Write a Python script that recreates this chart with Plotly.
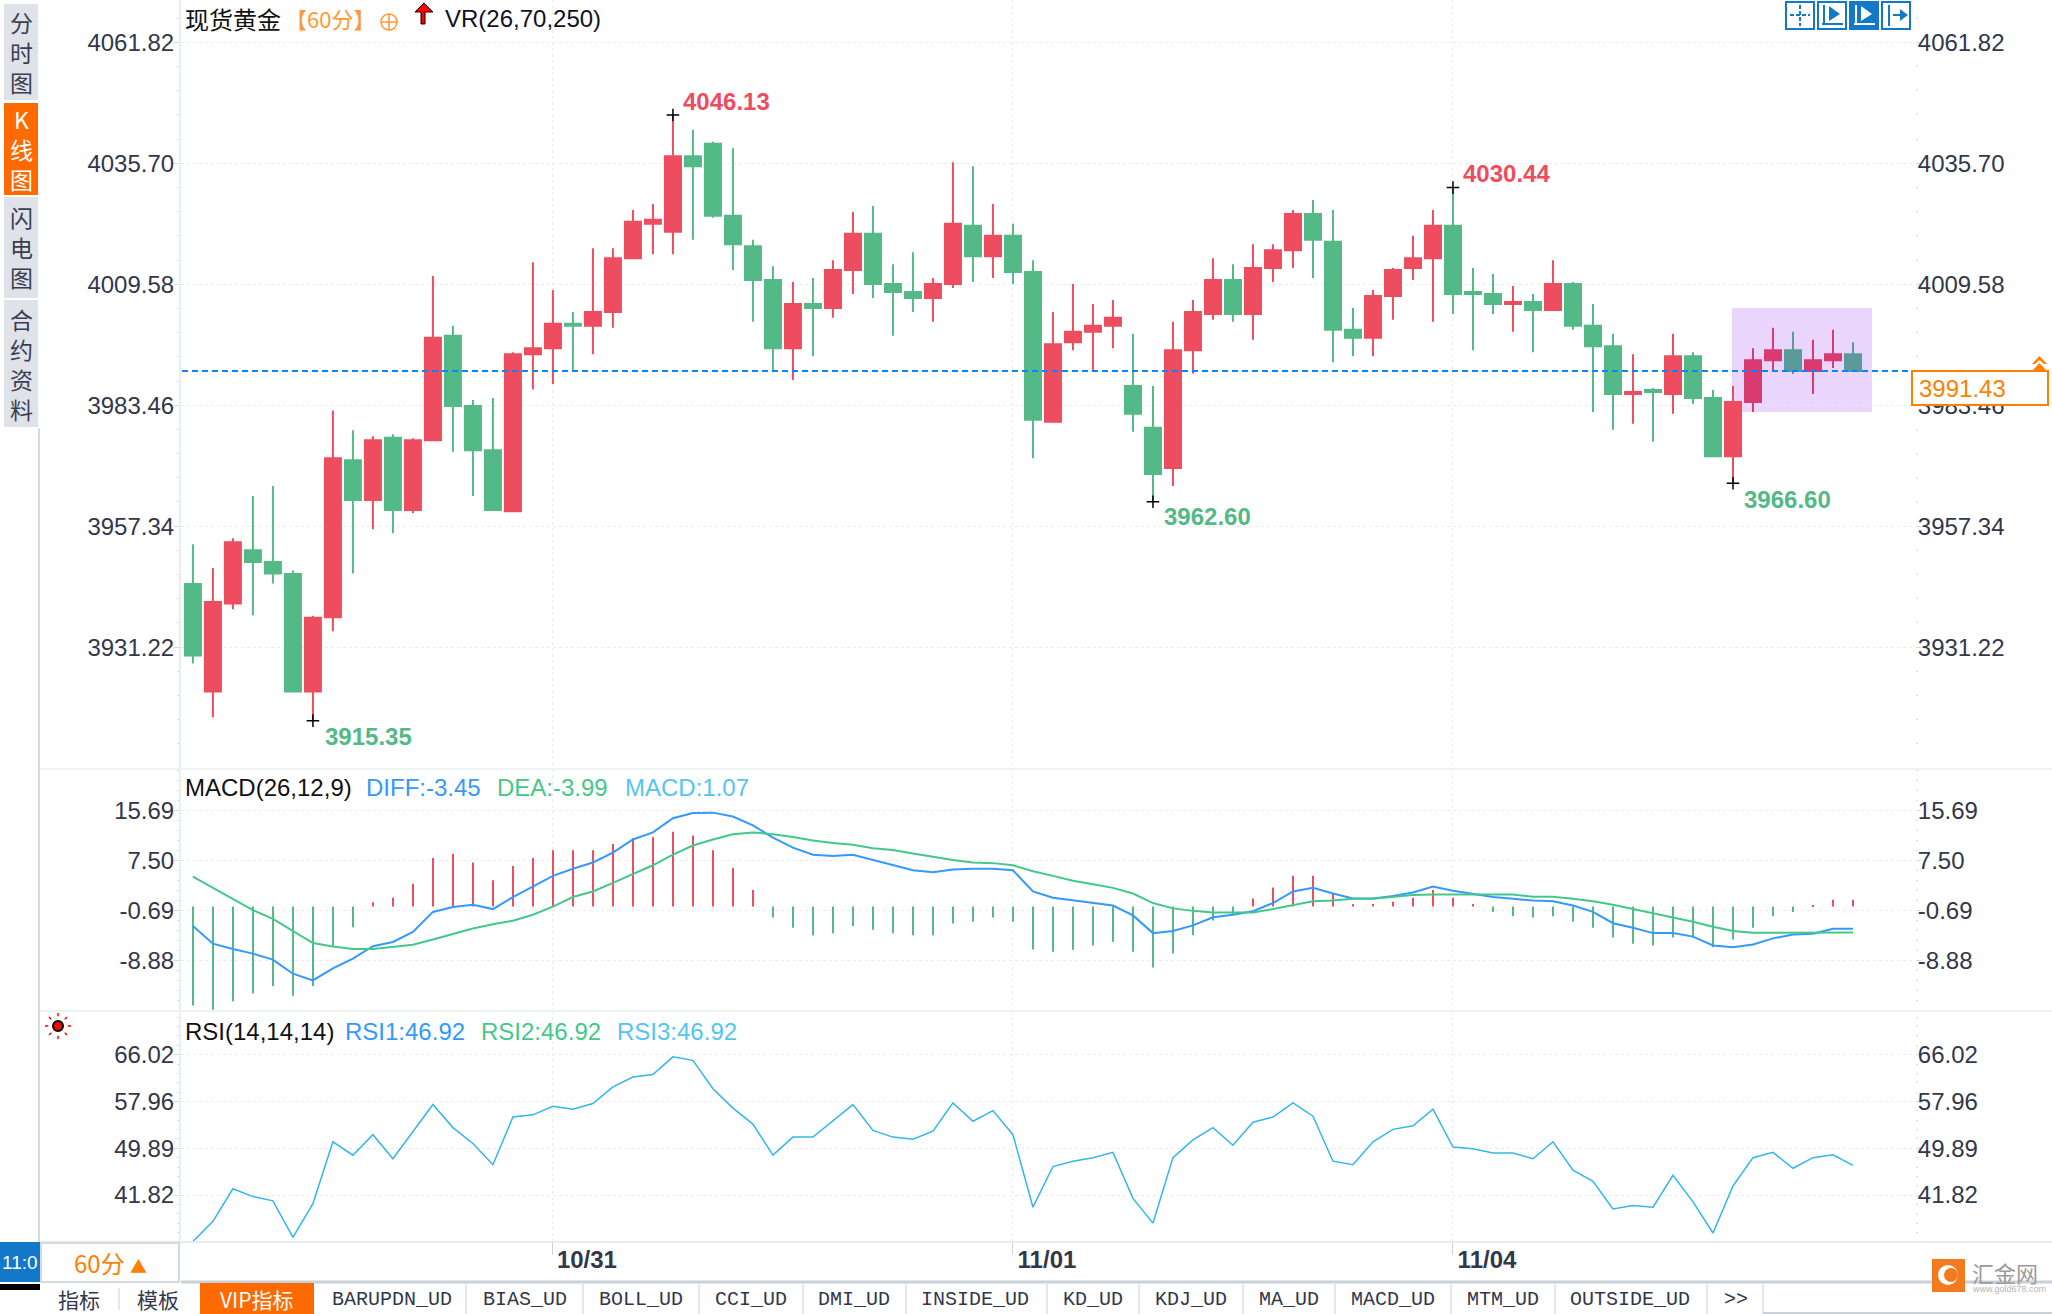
import plotly.graph_objects as go
from plotly.subplots import make_subplots

W, H = 2052, 1314

open_px = [3944.86,3921.66,3940.67,3952.16,3949.59,3947.01,3921.66,3937.67,3971.60,3963.01,
           3976.44,3960.86,3975.90,3998.45,3983.31,3973.75,3960.54,3994.48,3995.77,4001.03,
           4000.60,4003.61,4015.21,4022.62,4020.90,4037.23,4039.91,4024.34,4017.79,4010.48,
           3995.77,4005.33,4004.47,4012.63,4020.47,4009.62,4007.91,4006.62,4009.62,4022.19,
           4015.64,4020.04,4012.20,3979.87,3997.06,3999.31,4000.60,3987.61,3978.58,3969.89,
           3995.34,4003.18,4010.48,4003.18,4013.06,4016.93,4024.77,4018.75,3999.74,3998.02,
           4007.05,4013.06,4015.21,4022.19,4007.91,4007.48,4005.33,4005.76,4004.04,4009.62,
           4000.60,3996.20,3985.89,3986.75,3985.89,3994.05,3985.03,3972.46,3984.17,3993.19,
           3995.34,3990.83,3993.19,3994.48]
close_px = [3929.40,3940.99,3953.88,3949.59,3947.12,3921.66,3937.56,3972.03,3963.01,3975.90,
            3960.86,3975.90,3998.02,3983.31,3973.75,3960.86,3994.48,3995.77,4001.03,4000.60,
            4003.61,4015.21,4023.05,4023.48,4037.23,4035.08,4024.34,4018.22,4010.48,3995.77,
            4005.33,4004.47,4012.63,4020.47,4009.62,4007.91,4006.62,4009.62,4022.62,4015.64,
            4020.04,4012.20,3980.30,3996.63,3999.31,4000.60,4002.32,3981.59,3968.60,3995.34,
            4003.61,4010.48,4003.18,4013.06,4016.93,4024.77,4019.18,3999.74,3998.02,4007.05,
            4012.63,4015.21,4022.19,4007.48,4007.48,4005.33,4005.76,4004.04,4009.62,4000.60,
            3996.20,3985.89,3986.32,3986.32,3994.05,3985.03,3972.46,3984.17,3993.19,3995.34,
            3990.83,3993.19,3994.48,3990.83]
high_px = [3953.45,3948.30,3954.74,3963.87,3966.02,3947.76,3937.99,3982.34,3978.05,3976.76,
           3977.19,3976.33,4011.34,4000.60,3984.60,3985.03,3994.91,4014.35,4008.33,4003.61,
           4017.36,4017.36,4025.63,4026.91,4046.13,4042.92,4040.34,4038.94,4019.18,4013.49,
           4010.05,4010.91,4014.78,4025.20,4026.49,4013.92,4016.50,4010.91,4035.94,4035.08,
           4026.91,4022.62,4014.78,4003.61,4009.62,4005.33,4006.19,3998.88,3987.61,4001.46,
           4006.19,4015.21,4013.92,4018.22,4018.22,4025.63,4027.77,4025.63,4004.47,4008.33,
           4013.06,4020.04,4025.63,4030.44,4013.06,4011.77,4009.19,4007.48,4014.78,4010.05,
           4005.33,3998.88,3994.48,3987.18,3998.88,3994.91,3986.75,3987.61,3995.77,4000.17,
           3999.31,3997.59,3999.74,3997.06]
low_px = [3927.68,3916.08,3939.38,3938.10,3944.97,3921.66,3915.35,3934.66,3947.12,3956.68,
          3955.82,3960.11,3975.90,3973.43,3963.87,3960.86,3960.54,3986.85,3988.04,3990.94,
          3994.48,4000.17,4015.21,4016.07,4016.07,4019.18,4023.91,4012.63,4001.46,3990.94,
          3988.90,3994.05,4002.32,4007.48,4006.62,3998.45,4003.61,4001.46,4008.76,4010.05,
          4010.91,4009.62,3972.03,3979.87,3995.34,3990.94,3995.77,3977.73,3962.60,3966.02,
          3990.29,4001.89,4001.46,3997.59,4010.05,4013.06,4010.91,3992.76,3994.05,3994.05,
          4001.89,4010.48,4001.46,4003.18,3995.34,4003.18,3999.31,3994.91,4004.04,3999.74,
          3982.02,3978.16,3979.44,3975.58,3981.59,3983.74,3972.46,3966.60,3982.02,3990.61,
          3990.18,3985.89,3991.47,3990.83]

macd_hist = [-16.2,-16.9,-15.5,-14.2,-13.0,-14.6,-13.0,-6.5,-3.4,0.7,
             1.4,3.7,7.9,8.6,7.2,4.3,6.6,7.9,9.2,9.2,
             9.2,10.2,11.2,11.3,12.2,11.6,9.2,6.3,2.7,-1.8,
             -3.5,-4.7,-4.4,-3.2,-3.8,-4.4,-4.7,-4.7,-2.8,-2.5,
             -1.8,-2.5,-7.05,-7.4,-7.1,-6.4,-5.8,-7.4,-10.0,-7.7,
             -4.7,-2.3,-1.4,1.3,3.1,5.0,5.0,2.2,0.4,0.4,
             0.75,1.4,2.7,1.4,0.4,-0.9,-1.6,-1.8,-1.6,-2.5,
             -3.5,-5.1,-6.1,-6.4,-5.1,-5.1,-6.7,-5.4,-3.5,-1.6,
             -0.9,0.2,1.1,1.07]
diff = [-3.21,-6.10,-6.97,-7.72,-8.70,-11.01,-12.11,-10.15,-8.53,-6.51,
        -5.81,-4.19,-0.90,-0.09,0.26,-0.44,1.53,3.26,5.00,6.15,
        7.19,8.81,10.95,12.11,14.42,15.29,15.34,14.71,13.26,11.24,
        9.62,8.46,8.23,8.46,7.60,6.73,5.92,5.57,6.04,6.15,
        6.15,5.92,2.45,1.41,1.01,0.55,0.14,-1.48,-4.37,-4.02,
        -3.10,-1.77,-1.36,-0.78,0.55,2.45,3.03,2.11,1.30,1.30,
        1.70,2.28,3.26,2.57,2.11,1.53,1.24,0.95,0.84,0.14,
        -0.90,-2.75,-3.50,-4.37,-4.37,-4.94,-6.39,-6.68,-6.22,-5.23,
        -4.60,-4.48,-3.67,-3.67]
dea = [4.88,3.03,1.30,-0.61,-2.05,-4.08,-5.99,-6.56,-6.97,-6.97,
       -6.56,-6.27,-5.41,-4.48,-3.62,-2.92,-2.34,-1.36,-0.03,1.53,
       2.45,3.84,5.34,6.73,8.46,9.97,10.95,11.82,12.11,11.82,
       11.35,10.78,10.37,10.08,9.51,9.22,8.64,8.06,7.60,7.19,
       7.08,6.73,5.75,5.00,4.19,3.61,3.03,2.11,0.55,-0.32,
       -0.73,-1.01,-1.07,-1.01,-0.44,0.14,0.84,0.95,1.24,1.24,
       1.53,1.88,1.93,1.93,1.93,1.93,1.93,1.59,1.59,1.24,
       0.84,0.26,-0.44,-1.07,-1.77,-2.52,-3.33,-4.02,-4.31,-4.31,
       -4.31,-4.31,-4.31,-4.25]
rsi = [33.81,37.29,42.90,41.56,40.83,34.54,40.34,51.01,48.70,52.23,
       48.09,52.84,57.42,53.45,50.71,47.05,55.28,55.65,57.11,56.63,
       57.60,60.47,62.18,62.60,65.65,65.04,60.16,56.81,54.06,48.70,
       51.81,51.81,54.67,57.42,52.97,51.81,51.44,52.84,57.72,54.55,
       56.38,52.23,39.73,46.74,47.66,48.27,49.18,41.25,36.98,48.27,
       51.32,53.45,50.40,54.37,55.28,57.72,55.41,47.66,47.05,51.01,
       53.15,53.76,56.63,50.10,49.79,49.06,49.06,48.09,51.01,46.13,
       44.18,39.42,40.03,39.73,45.22,40.64,35.28,43.39,48.27,49.18,
       46.44,48.27,48.76,46.93]

idx = list(range(1, len(open_px) + 1))
date_pos = [19, 42, 64]
date_labels = ["10/31", "11/01", "11/04"]

price_ticks = [4061.82, 4035.70, 4009.58, 3983.46, 3957.34, 3931.22]
price_labels = ["4061.82", "4035.70", "4009.58", "3983.46", "3957.34", "3931.22"]
macd_ticks = [15.69, 7.50, -0.69, -8.88]
macd_labels = ["15.69", "7.50", "-0.69", "-8.88"]
rsi_ticks = [66.02, 57.96, 49.89, 41.82]
rsi_labels = ["66.02", "57.96", "49.89", "41.82"]

extreme_idx = [7, 25, 49, 64, 78]
extreme_val = [3915.35, 4046.13, 3962.60, 4030.44, 3966.60]
last_line = 3990.85

RED = "#ee4d5f"
GREEN = "#53b986"
BLUE = "#1478c8"
ORANGE = "#ff7f00"
TXT = "#33374a"
FONT = "Liberation Sans, Noto Sans CJK SC"


def px(x):
    return x / W


def py(y):
    return 1 - y / H


fig = make_subplots(rows=3, cols=1, shared_xaxes=True)

# main candles, the last six sit under the purple box so they get the tinted colours
n = len(idx) - 6
fig.add_trace(go.Candlestick(x=idx[:n], open=open_px[:n], high=high_px[:n], low=low_px[:n], close=close_px[:n],
                             increasing=dict(line=dict(color=RED, width=2), fillcolor=RED),
                             decreasing=dict(line=dict(color=GREEN, width=2), fillcolor=GREEN),
                             whiskerwidth=0), row=1, col=1)
fig.add_trace(go.Candlestick(x=idx[n:], open=open_px[n:], high=high_px[n:], low=low_px[n:], close=close_px[n:],
                             increasing=dict(line=dict(color="#d93a70", width=2), fillcolor="#d93a70"),
                             decreasing=dict(line=dict(color="#5a9a9a", width=2), fillcolor="#5a9a9a"),
                             whiskerwidth=0), row=1, col=1)
fig.add_trace(go.Scatter(x=extreme_idx, y=extreme_val, mode="markers",
                         marker=dict(symbol="cross-thin", size=9, line=dict(color="black", width=1.5))), row=1, col=1)

fig.add_trace(go.Bar(x=idx, y=macd_hist, width=0.08,
                     marker=dict(color=[RED if v > 0 else GREEN for v in macd_hist], line_width=0)), row=2, col=1)
fig.add_trace(go.Scatter(x=idx, y=diff, mode="lines", line=dict(color="#3399ff", width=2)), row=2, col=1)
fig.add_trace(go.Scatter(x=idx, y=dea, mode="lines", line=dict(color="#44c88a", width=2)), row=2, col=1)
fig.add_trace(go.Scatter(x=idx, y=rsi, mode="lines", line=dict(color="#33b5ee", width=1.5)), row=3, col=1)

x_range = [0.405, 87.1]
for name in ("xaxis", "xaxis2", "xaxis3"):
    fig.layout[name].update(range=x_range, showgrid=True, gridcolor="#ececec", griddash="dot", gridwidth=1,
                            tickvals=date_pos, ticktext=date_labels, showticklabels=False, zeroline=False,
                            rangeslider_visible=False)
fig.layout.xaxis3.update(showticklabels=True, ticks="outside", ticklen=12, tickcolor="#ccd3da",
                         tickfont=dict(family=FONT, size=24, color=TXT, weight="bold"),
                         ticklabelshift=34, ticklabelstandoff=-16)


def yax(dom, rng, vals, labels, minor_step, side="left", **kw):
    d = dict(domain=[py(dom[1]), py(dom[0])], range=rng, tickvals=vals, ticktext=labels, side=side,
             tickfont=dict(family=FONT, size=24, color=TXT), ticks="outside", ticklen=5, tickcolor="#d5d9e0",
             ticklabelstandoff=-5 if side == "left" else -8,
             showgrid=False, zeroline=False,
             minor=dict(ticks="outside", ticklen=2, tickcolor="#d5d9e0", tick0=vals[0], dtick=minor_step, showgrid=False))
    d.update(kw)
    return d


price_rng = [3905.0, 4070.95]
macd_rng = [-17.11, 22.48]
rsi_rng = [33.73, 73.55]
dom1, dom2, dom3 = (0, 768.6), (769, 1011), (1011, 1242)

fig.update_layout(
    yaxis=yax(dom1, price_rng, price_ticks, price_labels, 5.224, showline=True, linecolor="#e8eef2", linewidth=2,
              showgrid=True, gridcolor="#ececec", griddash="dot"),
    yaxis2=yax(dom2, macd_rng, macd_ticks, macd_labels, 1.638, showline=True, linecolor="#e8eef2", linewidth=2,
               showgrid=True, gridcolor="#ececec", griddash="dot"),
    yaxis3=yax(dom3, rsi_rng, rsi_ticks, rsi_labels, 1.614, showline=True, linecolor="#e8eef2", linewidth=2,
               showgrid=True, gridcolor="#ececec", griddash="dot"),
    yaxis4=yax(dom1, price_rng, price_ticks, price_labels, 5.224, side="right", overlaying="y", anchor="x"),
    yaxis5=yax(dom2, macd_rng, macd_ticks, macd_labels, 1.638, side="right", overlaying="y2", anchor="x2"),
    yaxis6=yax(dom3, rsi_rng, rsi_ticks, rsi_labels, 1.614, side="right", overlaying="y3", anchor="x3"),
)
# right hand axes need a trace to show up
for k, (ya, xa, vals) in enumerate((("y4", "x", price_ticks), ("y5", "x2", macd_ticks), ("y6", "x3", rsi_ticks))):
    fig.add_trace(go.Scatter(x=[1] * len(vals), y=vals, xaxis=xa, yaxis=ya, mode="markers", marker=dict(opacity=0)))

shapes = []
anns = []


def rect(x0, y0, x1, y1, fill=None, line=None, lw=1, layer="above"):
    shapes.append(dict(type="rect", xref="paper", yref="paper", x0=px(x0), x1=px(x1), y0=py(y0), y1=py(y1),
                       fillcolor=fill or "rgba(0,0,0,0)", line=dict(color=line or "rgba(0,0,0,0)", width=lw if line else 0),
                       layer=layer))


def seg(x0, y0, x1, y1, color, lw=1, dash="solid", layer="above"):
    shapes.append(dict(type="line", xref="paper", yref="paper", x0=px(x0), x1=px(x1), y0=py(y0), y1=py(y1),
                       line=dict(color=color, width=lw, dash=dash), layer=layer))


def circ(x, y, r, fill=None, line=None, lw=1):
    shapes.append(dict(type="circle", xref="paper", yref="paper", x0=px(x - r), x1=px(x + r), y0=py(y - r), y1=py(y + r),
                       fillcolor=fill or "rgba(0,0,0,0)", line=dict(color=line or "rgba(0,0,0,0)", width=lw if line else 0)))


def poly(points, fill=None, line=None, lw=1):
    path = "M " + " L ".join(f"{px(a):.5f} {py(b):.5f}" for a, b in points) + " Z"
    shapes.append(dict(type="path", xref="paper", yref="paper", path=path,
                       fillcolor=fill or "rgba(0,0,0,0)", line=dict(color=line or "rgba(0,0,0,0)", width=lw if line else 0)))


def label(x, y, text, size=24, color=TXT, anchor="left", font=FONT, weight="normal", **kw):
    anns.append(dict(xref="paper", yref="paper", x=px(x), y=py(y), text=text, showarrow=False, xanchor=anchor,
                     yanchor="middle", font=dict(family=font, size=size, color=color, weight=weight), borderpad=0, **kw))


# highlight box, last price line
rect(1732, 308, 1872, 412, fill="#ead6fd", layer="below")
seg(182, 371, 1912, 371, "#0a84ff", 2, "6px,4px")

# dividers and left frame
seg(39, 769, W, 769, "#eef2f2", 2)
seg(39, 1011, W, 1011, "#eef2f2", 2)
seg(39, 1242, W, 1242, "#e6ecf0", 2)
seg(39, 428, 39, 1282, "#d5d9e0", 2)

# left tabs
tab_y = [(4, 100), (103, 195), (197, 298), (300, 427)]
tab_txt = ["分<br>时<br>图", "K<br>线<br>图", "闪<br>电<br>图", "合<br>约<br>资<br>料"]
for k, ((y0, y1), t) in enumerate(zip(tab_y, tab_txt)):
    on = k == 1
    rect(4, y0, 38, y1, fill="#ff6a00" if on else "#e0e2ea")
    label(21, (y0 + y1) / 2, t, size=23, color="white" if on else "#3a3f50", anchor="center", font="Noto Sans CJK SC")

# header of the price panel
label(184, 18, "现货黄金", size=24, color="#111111", font="Noto Sans CJK SC")
label(284, 18, "【60分】", size=22, color="#ff9933", font="Noto Sans CJK SC")
circ(389, 22, 8, line="#ff9933", lw=1.5)
seg(381, 22, 397, 22, "#ff9933", 1.5)
seg(389, 14, 389, 30, "#ff9933", 1.5)
poly([(425, 24), (425, 12), (433, 12), (424, 3), (415, 12), (421, 12), (421, 24)], fill="#ff0000", line="black", lw=1)
label(444, 18, "VR(26,70,250)", size=24, color="#111122")

# toolbar
for k, x0 in enumerate((1786, 1818, 1850, 1882)):
    rect(x0, 2, x0 + 28, 29, fill=BLUE if k == 2 else "white", line=BLUE, lw=2)
    c = "white" if k == 2 else BLUE
    if k == 0:
        seg(x0 + 4, 15, x0 + 24, 15, c, 2, "4px,2px")
        seg(x0 + 14, 5, x0 + 14, 26, c, 2, "4px,2px")
    elif k in (1, 2):
        seg(x0 + 6, 5, x0 + 6, 23, c, 2)
        seg(x0 + 4, 24, x0 + 25, 24, c, 2)
        poly([(x0 + 11, 6), (x0 + 11, 21), (x0 + 22, 14)], fill=c)
    else:
        seg(x0 + 7, 5, x0 + 7, 26, c, 2)
        seg(x0 + 11, 15, x0 + 20, 15, c, 2)
        poly([(x0 + 18, 9), (x0 + 18, 21), (x0 + 26, 15)], fill=c)

# high / low labels
label(682, 101, "4046.13", color=RED, weight="bold")
label(324, 736, "3915.35", color=GREEN, weight="bold")
label(1163, 516, "3962.60", color=GREEN, weight="bold")
label(1462, 173, "4030.44", color=RED, weight="bold")
label(1743, 499, "3966.60", color=GREEN, weight="bold")

# last price box
rect(1912, 371, 2048, 405, fill="white", line=ORANGE, lw=2)
label(1918, 388, "3991.43", color=ORANGE)
poly([(2032, 364), (2039.5, 356), (2047, 364), (2044, 364), (2039.5, 360), (2035, 364)], fill=ORANGE)
poly([(2032, 371), (2039.5, 363), (2047, 371)], fill=ORANGE)

# indicator headers
label(184, 787, "MACD(26,12,9)", color="#111111")
label(365, 787, "DIFF:-3.45", color="#3399ff")
label(496, 787, "DEA:-3.99", color="#44c88a")
label(624, 787, "MACD:1.07", color="#55c4f5")
label(184, 1031, "RSI(14,14,14)", color="#111111")
label(344, 1031, "RSI1:46.92", color="#3399ff")
label(480, 1031, "RSI2:46.92", color="#44c88a")
label(616, 1031, "RSI3:46.92", color="#55c4f5")

# sun icon
circ(58, 1026, 5, fill="#ff0000", line="black", lw=2)
for dx, dy in ((0, -13), (0, 13), (-13, 0), (13, 0), (-9, -9), (9, -9), (-9, 9), (9, 9)):
    seg(58 + dx * 0.75, 1026 + dy * 0.75, 58 + dx, 1026 + dy, "#ff0000", 1.5)

# bottom left boxes
rect(0, 1242, 40, 1282, fill=BLUE)
label(20, 1262, "11:0", size=19, color="white", anchor="center")
rect(41, 1243, 179, 1282, fill="white", line="#d5d9e0", lw=2)
label(110, 1262, '60分 <span style="font-size:17px">▲</span>', size=24, color=ORANGE, anchor="center",
      font="Noto Sans CJK SC")
rect(0, 1284, 40, 1290, fill="black")

# bottom tab strip
seg(181, 1282, W, 1282, "#c8d0d8", 3)
seg(1763, 1313, W, 1313, "#c8d0d8", 2)
rect(200, 1283, 314, 1314, fill="#ff6a00")
label(257, 1299, "VIP指标", size=21, color="white", anchor="center", font="Noto Sans CJK SC")
label(79, 1299, "指标", size=21, color="#33374a", anchor="center", font="Noto Sans CJK SC")
label(158, 1299, "模板", size=21, color="#33374a", anchor="center", font="Noto Sans CJK SC")
seg(119, 1288, 119, 1310, "#c8d0d8", 1)
tab_names = ["BARUPDN_UD", "BIAS_UD", "BOLL_UD", "CCI_UD", "DMI_UD", "INSIDE_UD", "KD_UD", "KDJ_UD", "MA_UD",
             "MACD_UD", "MTM_UD", "OUTSIDE_UD", ">>"]
tab_cx = [391.5, 525, 641, 751, 854, 975, 1093, 1191, 1289, 1393, 1503, 1630, 1736]
tab_sep = [466, 583, 699, 803, 906, 1047, 1139, 1243, 1335, 1451, 1555, 1707, 1763]
for t, c, s in zip(tab_names, tab_cx, tab_sep):
    label(c, 1299, t, size=20, color="#33374a", anchor="center", font="Liberation Mono")
    seg(s, 1284, s, 1314, "#c8d0d8", 1)

# logo
rect(1932, 1259, 1965, 1292, fill="#f47a20")
circ(1948, 1275, 10, fill="white")
circ(1951, 1275, 7, fill="#f47a20")
label(1971, 1272, "汇金网", size=22, color="#9a9a9a", font="Noto Sans CJK SC")
label(1971, 1289, "www.gold678.com", size=9, color="#b5b5b5")

fig.update_layout(width=W, height=H, margin=dict(l=0, r=0, t=0, b=0), autosize=False,
                  paper_bgcolor="white", plot_bgcolor="white", showlegend=False, boxgap=0.2, boxgroupgap=0,
                  barmode="overlay", shapes=shapes, annotations=anns, hovermode=False)

# the x axes span only the chart area, the rest of the page is drawn by hand
for name in ("xaxis", "xaxis2", "xaxis3"):
    fig.layout[name].domain = [px(181), px(1915)]

fig.write_html("out.html", config={"displayModeBar": False},
               post_script="document.body.style.margin='0';document.body.style.overflow='hidden';")
